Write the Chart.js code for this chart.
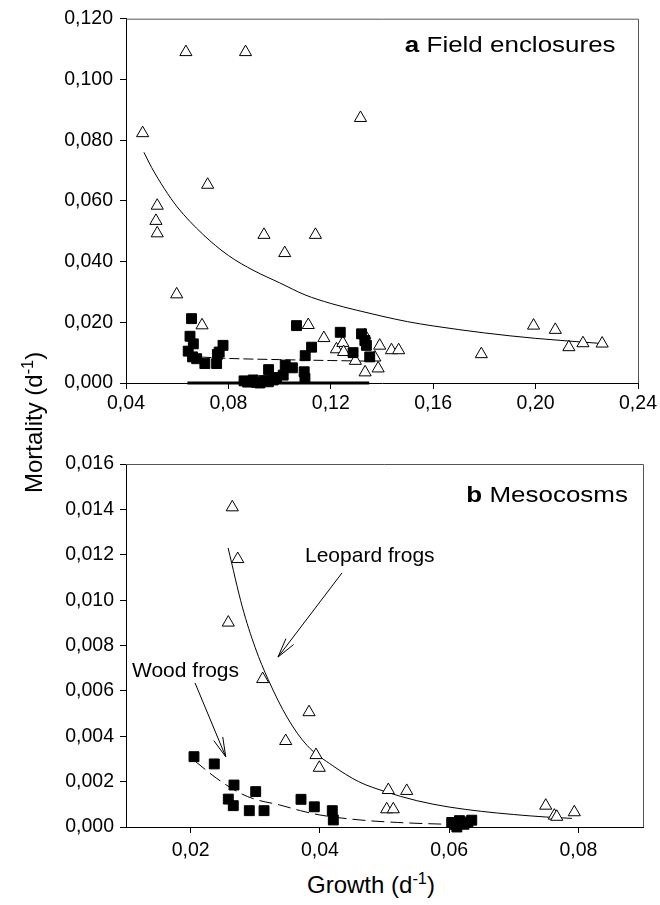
<!DOCTYPE html>
<html><head><meta charset="utf-8">
<script src="https://cdn.jsdelivr.net/npm/chart.js@4.4.1/dist/chart.umd.min.js"></script>
<style>
html,body{margin:0;padding:0;background:#fff;}
body{width:660px;height:905px;position:relative;overflow:hidden;font-family:"Liberation Sans",Arial,Helvetica,sans-serif;color:#000;}
canvas{position:absolute;left:0;}
.t{position:absolute;white-space:nowrap;line-height:1;}
sup{font-size:0.68em;vertical-align:0.55em;line-height:0;}
</style></head><body>
<canvas id="ca" width="660" height="420" style="top:0px"></canvas>
<canvas id="cb" width="660" height="420" style="top:440px"></canvas>
<div class="t" style="right:44px;top:34px;font-size:22px;transform:scaleX(1.18);transform-origin:right center;"><b>a</b> Field enclosures</div>
<div class="t" style="right:32px;top:484px;font-size:22px;transform:scaleX(1.18);transform-origin:right center;"><b>b</b> Mesocosms</div>
<div class="t" style="left:305px;top:544px;font-size:21px;">Leopard frogs</div>
<div class="t" style="left:132px;top:659px;font-size:21px;">Wood frogs</div>
<div class="t" style="left:22px;top:493px;font-size:24px;transform:rotate(-90deg);transform-origin:0 0;">Mortality (d<sup>-1</sup>)</div>
<div class="t" style="left:307px;top:873px;font-size:24px;">Growth (d<sup>-1</sup>)</div>
<script>
// ---- Panel a: field enclosures ----
const fieldLeopard = [
  [0.0465,0.0823],[0.0517,0.0534],[0.0522,0.0584],[0.0522,0.0493],[0.0598,0.0292],
  [0.0634,0.1090],[0.0697,0.0190],[0.0719,0.0653],[0.0867,0.1090],[0.0939,0.0488],
  [0.1020,0.0428],[0.1112,0.0191],[0.1140,0.0488],[0.1173,0.0148],[0.1222,0.0111],
  [0.1247,0.0132],[0.1250,0.0102],[0.1296,0.0073],[0.1316,0.0873],[0.1333,0.0157],
  [0.1334,0.0035],[0.1372,0.0084],[0.1385,0.0048],[0.1391,0.0123],[0.1437,0.0108],
  [0.1465,0.0108],[0.1788,0.0095],[0.1992,0.0189],[0.2077,0.0175],[0.2130,0.0118],
  [0.2185,0.0131],[0.2260,0.0130]
];
const fieldWood = [
  [0.0643,0.0105],[0.0650,0.0154],[0.0656,0.0212],[0.0660,0.0086],[0.0663,0.0129],
  [0.0676,0.0080],[0.0708,0.0064],[0.0754,0.0064],[0.0757,0.0094],[0.0764,0.0102],
  [0.0779,0.0124],[0.0861,0.0007],[0.0875,0.0003],[0.0897,0.0010],[0.0910,0.0002],
  [0.0923,0.0000],[0.0940,0.0008],[0.0956,0.0004],[0.0957,0.0044],[0.0975,0.0010],
  [0.0988,0.0018],[0.1014,0.0026],[0.1022,0.0059],[0.1050,0.0050],[0.1066,0.0189],
  [0.1096,0.0037],[0.1099,0.0015],[0.1100,0.0090],[0.1125,0.0118],[0.1237,0.0167],
  [0.1287,0.0100],[0.1320,0.0162],[0.1333,0.0140],[0.1339,0.0124],[0.1352,0.0086]
];
const fieldLeopardFit = [
  [0.047,0.0760],[0.050,0.0710],[0.055,0.0640],[0.060,0.0580],[0.070,0.0490],
  [0.080,0.0420],[0.090,0.0370],[0.100,0.0330],[0.110,0.0290],[0.120,0.0262],
  [0.130,0.0240],[0.140,0.0220],[0.150,0.0202],[0.160,0.0188],[0.180,0.0165],
  [0.200,0.0147],[0.226,0.0130]
];
const fieldWoodFit = [[0.064,0.0088],[0.080,0.0081],[0.100,0.0077],[0.120,0.0074],[0.135,0.0072]];
const fieldWoodZero = [[0.064,0.0],[0.135,0.0]];
const xTicksA = [0.04,0.08,0.12,0.16,0.20,0.24];
const yTicksA = [0,0.02,0.04,0.06,0.08,0.10,0.12];

// ---- Panel b: mesocosms ----
const mesoLeopard = [
  [0.02583,0.00901],[0.02645,0.01409],[0.02729,0.01181],[0.03115,0.00652],[0.03471,0.00379],
  [0.03832,0.00506],[0.03940,0.00317],[0.03991,0.00261],[0.05034,0.00078],[0.05059,0.00163],
  [0.05136,0.00078],[0.05344,0.00159],[0.07495,0.00094],[0.07628,0.00050],[0.07665,0.00045],
  [0.07937,0.00065]
];
const mesoWood = [
  [0.02052,0.00310],[0.02366,0.00278],[0.02583,0.00123],[0.02660,0.00094],[0.02671,0.00185],
  [0.02908,0.00072],[0.03007,0.00156],[0.03136,0.00072],[0.03708,0.00122],[0.03914,0.00089],
  [0.04192,0.00072],[0.04208,0.00031],[0.06040,0.00020],[0.06100,0.00010],[0.06160,0.00028],
  [0.06230,0.00012],[0.06290,0.00022],[0.06350,0.00030],[0.06120,0.00000]
];
const mesoLeopardFit = [
  [0.0258,0.0123],[0.0280,0.0097],[0.0300,0.0079],[0.0320,0.0065],[0.0350,0.0048],
  [0.0380,0.0036],[0.0420,0.0027],[0.0460,0.0020],[0.0500,0.00157],[0.0550,0.00116],
  [0.0600,0.00088],[0.0650,0.00069],[0.0700,0.00055],[0.0750,0.00044],[0.0790,0.00038]
];
const mesoWoodFit = [
  [0.0207,0.0029],[0.0240,0.00215],[0.0276,0.0015],[0.0300,0.00122],[0.0338,0.00097],
  [0.0370,0.00072],[0.0400,0.00053],[0.0462,0.00031],[0.0520,0.00020],[0.0586,0.00013],
  [0.0620,0.00011]
];
const mesoArrows = [
  {from:[0.04343,0.01120], to:[0.03352,0.00749]},
  {from:[0.02068,0.00635], to:[0.02543,0.00310]}
];
const xTicksB = [0.02,0.04,0.06,0.08];
const yTicksB = [0,0.002,0.004,0.006,0.008,0.010,0.012,0.014,0.016];

const FONT = '"Liberation Sans", Arial, Helvetica, sans-serif';
const pts = a => a.map(p => ({x:p[0], y:p[1]}));

const framePlugin = {
  id:'frame',
  beforeDatasetsDraw(chart){
    const {ctx, chartArea:a} = chart;
    ctx.save();
    ctx.strokeStyle = '#555'; ctx.lineWidth = 1;
    ctx.beginPath();
    ctx.moveTo(a.left, a.top + 0.5); ctx.lineTo(a.right + 0.5, a.top + 0.5);
    ctx.lineTo(a.right + 0.5, a.bottom);
    ctx.stroke();
    ctx.restore();
  },
  afterDatasetsDraw(chart, args, opts){
    const arrows = opts.arrows || [];
    const {ctx} = chart; const xs = chart.scales.x, ys = chart.scales.y;
    ctx.save();
    ctx.strokeStyle = '#000'; ctx.lineWidth = 1;
    arrows.forEach(ar => {
      const x1 = xs.getPixelForValue(ar.from[0]), y1 = ys.getPixelForValue(ar.from[1]);
      const x2 = xs.getPixelForValue(ar.to[0]), y2 = ys.getPixelForValue(ar.to[1]);
      const ang = Math.atan2(y1 - y2, x1 - x2);
      const L = 20, h = 14 * Math.PI / 180;
      ctx.beginPath();
      ctx.moveTo(x1, y1); ctx.lineTo(x2, y2);
      ctx.moveTo(x2 + L * Math.cos(ang + h), y2 + L * Math.sin(ang + h));
      ctx.lineTo(x2, y2);
      ctx.lineTo(x2 + L * Math.cos(ang - h), y2 + L * Math.sin(ang - h));
      ctx.stroke();
    });
    ctx.restore();
  }
};

function axis(min, max, ticks, dec, isX, labelPad, fitSize){
  return {
    type:'linear', min, max,
    afterBuildTicks: s => { s.ticks = ticks.map(v => ({value:v})); },
    afterFit: s => { if (isX) s.height = fitSize; else s.width = fitSize; },
    ticks:{ callback: v => Number(v).toFixed(dec).replace('.', ','), color:'#000',
      font:{family:FONT, size:19.5}, padding:labelPad, autoSkip:false, maxRotation:0 },
    grid:{ drawOnChartArea:false, drawTicks:true, tickLength:6, color:'#000', tickColor:'#000', tickWidth:1 },
    border:{ display:true, color:'#000', width:1 }
  };
}

function tri(d){ return {data:pts(d), pointStyle:'triangle', pointRadius:7, pointBackgroundColor:'#fff', pointBorderColor:'#000', pointBorderWidth:1, showLine:false, clip:false, order:1}; }
function sq(d){ return {data:pts(d), pointStyle:'rect', pointRadius:7, pointBackgroundColor:'#000', pointBorderColor:'#000', pointBorderWidth:1, showLine:false, clip:false, order:0}; }
function ln(d, dash, w){ return {data:pts(d), showLine:true, pointRadius:0, borderColor:'#000', borderWidth:w||1, borderDash:dash||[], cubicInterpolationMode:'monotone', fill:false, clip:false, order:2}; }

function make(id, datasets, xa, ya, padding, arrows){
  new Chart(document.getElementById(id), {
    type:'scatter',
    data:{datasets},
    options:{
      responsive:false, animation:false, devicePixelRatio:1, events:[],
      layout:{padding},
      scales:{x:xa, y:ya},
      plugins:{legend:{display:false}, tooltip:{enabled:false}, frame:{arrows}}
    },
    plugins:[framePlugin]
  });
}

make('ca',
  [sq(fieldWood), tri(fieldLeopard), ln(fieldLeopardFit), ln(fieldWoodFit,[10,4]), ln(fieldWoodZero,[],3)],
  axis(0.04, 0.24, xTicksA, 2, true, 3, 37),
  axis(0, 0.12, yTicksA, 3, false, 7, 126),
  {top:15, right:22, bottom:0, left:0}, []);

make('cb',
  [sq(mesoWood), tri(mesoLeopard), ln(mesoLeopardFit), ln(mesoWoodFit,[13,6])],
  axis(0.01, 0.09, xTicksB, 2, true, 6, 33),
  axis(0, 0.016, yTicksB, 3, false, 6, 126),
  {top:24, right:17, bottom:0, left:0}, mesoArrows);
</script>
</body></html>
